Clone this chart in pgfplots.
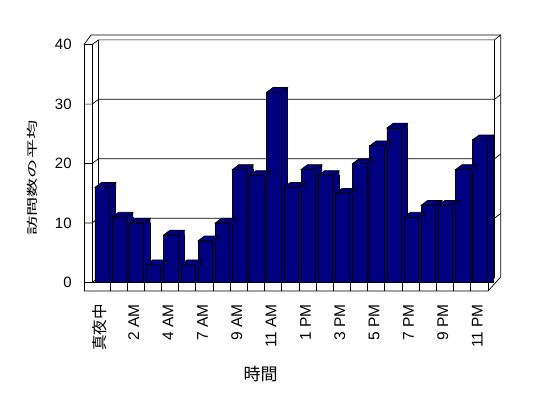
\documentclass[border=0pt]{standalone}
\usepackage{fontspec}
\setmainfont{Liberation Sans}
\newfontfamily\cjk{Noto Sans CJK JP}
\usepackage{graphicx}
\usepackage{pgfplots}
\usepackage{pgfplotstable}
\pgfplotsset{compat=1.18}
\definecolor{barblue}{RGB}{0,0,128}

\pgfplotstableread{
x y
0 16
1 11
2 10
3 3
4 8
5 3
6 7
7 10
8 19
9 18
10 32
11 16
12 19
13 18
14 15
15 20
16 23
17 26
18 11
19 13
20 13
21 19
22 24
}\datatable

\pgfdeclareplotmark{top3d}{%
  \pgfsetfillcolor{barblue}\pgfsetstrokecolor{black}%
  \pgfpathmoveto{\pgfqpoint{-6.4pt}{0pt}}%
  \pgfpathlineto{\pgfqpoint{0pt}{4.8pt}}%
  \pgfpathlineto{\pgfqpoint{14.3pt}{4.8pt}}%
  \pgfpathlineto{\pgfqpoint{14.3pt}{-1.5pt}}%
  \pgfpathlineto{\pgfqpoint{7.9pt}{-1.5pt}}%
  \pgfpathlineto{\pgfqpoint{7.9pt}{0pt}}%
  \pgfpathclose
  \pgfusepath{fill}%
  \pgfpathmoveto{\pgfqpoint{-6.4pt}{0pt}}%
  \pgfpathlineto{\pgfqpoint{7.9pt}{0pt}}%
  \pgfpathlineto{\pgfqpoint{14.3pt}{4.8pt}}%
  \pgfpathlineto{\pgfqpoint{0pt}{4.8pt}}%
  \pgfpathclose
  \pgfpathmoveto{\pgfqpoint{14.3pt}{4.8pt}}%
  \pgfpathlineto{\pgfqpoint{14.3pt}{-1.5pt}}%
  \pgfusepath{stroke}%
}

\begin{document}
\begin{tikzpicture}
\fill[white] (0,0) rectangle (548pt,398pt);
\useasboundingbox (0,0) rectangle (548pt,398pt);
\begin{scope}[x=1pt,y=1pt,line width=0.7pt]
  % left wall and outer frame
  \draw (84,107) -- (84,353.3) -- (92,353.3) -- (92,115.5);
  \draw (84,353.3) -- (91,363) -- (500.7,363) -- (500.7,121) -- (488,107) -- (84,107);
  \draw (92,353.3) -- (98.4,358.1) -- (494.4,358.1) -- (500.7,363);
  \draw (494.4,358.1) -- (494.4,120.3);
  \draw (98.4,358.1) -- (98.4,120.3);
  % floor
  \draw (84,115.5) -- (488,115.5) -- (494.4,120.3);
  \draw (488,115.5) -- (488,107);
  \draw (92,115.5) -- (98.4,120.3) -- (494.4,120.3);
  \foreach \k in {1,...,22} {\draw ({92.8+17.174*\k},115.5) -- ({92.8+17.174*\k},107);}
  % gridlines
  \foreach \yf in {174.95,234.4,293.85} {
    \draw (84,\yf) -- (92,\yf) -- (98.4,\yf+4.8) -- (494.4,\yf+4.8) -- (500.7,\yf+9.6);
  }
\end{scope}
\begin{axis}[
  at={(92.8pt,115.5pt)}, anchor=south west,
  scale only axis, width=395pt, height=237.8pt,
  xmin=-0.5, xmax=22.5, ymin=0, ymax=40,
  clip=false,
  axis line style={draw=none},
  major tick length=0pt,
  ytick={0,10,20,30,40},
  xtick={0,2,...,22},
  xticklabels={{\cjk 真夜中},2 AM,4 AM,7 AM,9 AM,11 AM,1 PM,3 PM,5 PM,7 PM,9 PM,11 PM},
  xticklabel style={font=\fontsize{15.5}{18}\selectfont, inner sep=0pt, yshift=-21.5pt, xshift=-2pt, rotate=90, anchor=east},
  yticklabel style={font=\fontsize{15}{18}\selectfont, inner sep=0pt, xshift=-21pt, anchor=east},
  /pgf/number format/assume math mode=true,
  xlabel={\cjk 時間},
  xlabel style={at={(rel axis cs:0.4246,-0.3869)}, anchor=center, font=\fontsize{17}{20}\selectfont, inner sep=0pt},
  ylabel={\cjk\scalebox{1.75}[1]{訪問数の平均}},
  ylabel style={at={(rel axis cs:-0.1527,0.4394)}, anchor=center, font=\fontsize{11}{13}\selectfont, inner sep=0pt},
]
\addplot[ybar, bar width=14.3pt, bar shift=7.15pt, fill=barblue, draw=black, line width=0.7pt] table[x=x,y=y]{\datatable};
\addplot[only marks, mark=top3d, line width=0.7pt] table[x=x,y=y]{\datatable};
\addplot[ybar, bar width=14.3pt, bar shift=0.75pt, fill=barblue, draw=black, line width=0.7pt] table[x=x,y=y]{\datatable};
\end{axis}
\end{tikzpicture}
\end{document}
